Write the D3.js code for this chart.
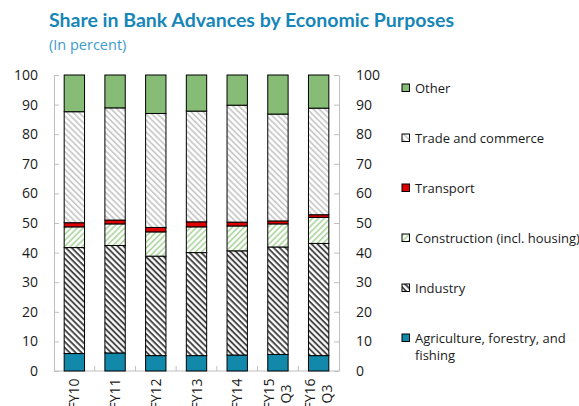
<!DOCTYPE html>
<html>
<head>
<meta charset="utf-8">
<script src="https://cdn.jsdelivr.net/npm/d3@7"></script>
<style>
  html, body { margin: 0; padding: 0; background: #fff; }
  svg { display: block; font-family: "Open Sans", "Noto Sans", sans-serif; }
</style>
</head>
<body>
<svg id="chart" width="579" height="406"></svg>
<script>
// Fiscal periods on the x axis (line breaks split multi-line labels)
const categories = ["FY10", "FY11", "FY12", "FY13", "FY14", "FY15\nQ3", "FY16\nQ3"];

// Share of bank advances by purpose, percent of total
const agriculture  = [5.9, 6.1, 5.2, 5.2, 5.4, 5.6, 5.2];
const industry     = [35.8, 36.3, 33.6, 34.8, 35.2, 36.3, 37.9];
const construction = [7.0, 7.3, 8.2, 8.7, 8.4, 7.8, 8.8];
const transport    = [1.4, 1.3, 1.5, 1.7, 1.3, 1.0, 0.9];
const trade        = [37.5, 37.9, 38.5, 37.4, 39.5, 36.1, 36.0];
const other        = [12.4, 11.1, 13.0, 12.2, 10.2, 13.2, 11.2];

const seriesNames = [
  "Agriculture, forestry, and fishing",
  "Industry",
  "Construction (incl. housing)",
  "Transport",
  "Trade and commerce",
  "Other"
];
const seriesValues = [agriculture, industry, construction, transport, trade, other];
const yTicks = [0, 10, 20, 30, 40, 50, 60, 70, 80, 90, 100];

const svg = d3.select("#chart");

// Hatch fills
const defs = svg.append("defs");
function hatch(id, color, width, angle) {
  const p = defs.append("pattern")
    .attr("id", id)
    .attr("patternUnits", "userSpaceOnUse")
    .attr("width", 4.2).attr("height", 4.2)
    .attr("patternTransform", `rotate(${angle})`);
  p.append("rect").attr("width", 4.2).attr("height", 4.2).attr("fill", "#fff");
  p.append("line").attr("x1", 1.5).attr("x2", 1.5).attr("y1", 0).attr("y2", 4.2)
    .attr("stroke", color).attr("stroke-width", width);
}
hatch("h-industry", "#3a3a3a", 1.8, -45);
hatch("h-construction", "#a9d49a", 1.6, 45);
hatch("h-trade", "#c4c4c4", 1.6, -45);

const fills = ["#1289ab", "url(#h-industry)", "url(#h-construction)", "#e00000", "url(#h-trade)", "#86bc76"];

// Plot frame
const plotLeft = 54, plotRight = 339, plotTop = 75, plotBottom = 371;

const x = d3.scaleBand().domain(categories).range([plotLeft, plotRight]).paddingInner(0.5).paddingOuter(0.25);
const y = d3.scaleLinear().domain([0, 100]).range([plotBottom, plotTop]);

// Stack the series
const rows = categories.map((c, i) => {
  const r = { cat: c };
  seriesNames.forEach((n, k) => { r[n] = seriesValues[k][i]; });
  return r;
});
const stacked = d3.stack().keys(seriesNames)(rows);

const axisColor = "#bfbfbf";

// Axes
const yLeft = svg.append("g").attr("transform", `translate(${plotLeft},0)`)
  .call(d3.axisLeft(y).tickValues(yTicks).tickSize(-5).tickPadding(16).tickSizeOuter(0));
const yRight = svg.append("g").attr("transform", `translate(${plotRight},0)`)
  .call(d3.axisRight(y).tickValues(yTicks).tickSize(-5).tickPadding(17).tickSizeOuter(0));
[yLeft, yRight].forEach(g => {
  g.select(".domain").attr("stroke", axisColor);
  g.selectAll(".tick line").attr("stroke", axisColor);
  g.selectAll(".tick text").attr("font-size", 14).attr("fill", "#1a1a1a")
    .attr("font-family", "'Open Sans', sans-serif");
});

// X axis baseline with ticks at category boundaries
const xAxis = svg.append("g");
xAxis.append("line").attr("x1", plotLeft).attr("x2", plotRight).attr("y1", plotBottom).attr("y2", plotBottom)
  .attr("stroke", axisColor);
const step = x.step();
d3.range(1, categories.length).forEach(i => {
  const bx = x(categories[i]) - (step - x.bandwidth()) / 2;
  xAxis.append("line").attr("x1", bx).attr("x2", bx).attr("y1", plotBottom).attr("y2", plotBottom - 5)
    .attr("stroke", axisColor);
});

// Bars
svg.append("g").selectAll("g").data(stacked).join("g")
  .attr("fill", (d, i) => fills[i])
  .selectAll("rect").data(d => d).join("rect")
  .attr("x", d => x(d.data.cat))
  .attr("width", x.bandwidth())
  .attr("y", d => y(d[1]))
  .attr("height", d => y(d[0]) - y(d[1]))
  .attr("stroke", "#000").attr("stroke-width", 1);

// Rotated category labels
const labels = svg.append("g");
categories.forEach(c => {
  const lines = c.split("\n");
  const cx = x(c) + x.bandwidth() / 2;
  const lh = 17;
  lines.forEach((ln, j) => {
    const off = (j - (lines.length - 1) / 2) * lh;
    labels.append("text")
      .attr("transform", `translate(${cx + off + 5},394) rotate(-90)`)
      .attr("text-anchor", "middle")
      .attr("font-size", 14).attr("fill", "#1a1a1a")
      .text(ln);
  });
});

// Legend (top to bottom: Other ... Agriculture)
const legend = svg.append("g");
const legendOrder = [5, 4, 3, 2, 1, 0];
legendOrder.forEach((k, j) => {
  const cy = 88 + j * 50;
  legend.append("rect").attr("x", 402).attr("y", cy - 4).attr("width", 7.5).attr("height", 7.5)
    .attr("fill", fills[k]).attr("stroke", "#000").attr("stroke-width", 1);
  const t = legend.append("text").attr("x", 415).attr("y", cy + 4.5)
    .attr("font-size", 13).attr("fill", "#1a1a1a");
  if (k === 0) {
    t.append("tspan").attr("x", 415).text("Agriculture, forestry, and");
    t.append("tspan").attr("x", 415).attr("dy", 17).text("fishing");
  } else {
    t.text(seriesNames[k]);
  }
});

// Title
svg.append("text").attr("x", 49).attr("y", 27)
  .attr("font-size", 19.5).attr("font-weight", "bold").attr("fill", "#1686b8")
  .attr("font-family", "Lato, 'Open Sans', sans-serif")
  .text("Share in Bank Advances by Economic Purposes");
svg.append("text").attr("x", 49).attr("y", 50)
  .attr("font-size", 14.5).attr("fill", "#3d9bcb")
  .text("(In percent)");
</script>
</body>
</html>
